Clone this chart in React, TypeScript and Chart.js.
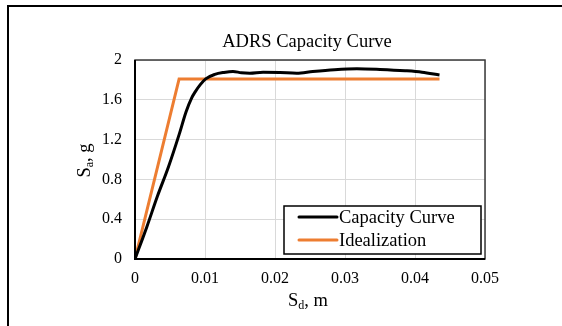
import React, { useEffect, useRef } from "react";
import { Chart, registerables } from "chart.js";

Chart.register(...registerables);

const chartTitle = "ADRS Capacity Curve";
const seriesNames = ["Capacity Curve", "Idealization"];

const capacitySd = [0, 0.0017, 0.0032, 0.0048, 0.0063, 0.0073, 0.0081, 0.0086, 0.0093, 0.0101, 0.0114, 0.0127, 0.014, 0.0152, 0.0164, 0.0183, 0.0207, 0.0231, 0.0254, 0.0285, 0.0317, 0.035, 0.0386, 0.041, 0.0435];
const capacitySa = [0, 0.325, 0.63, 0.93, 1.25, 1.48, 1.62, 1.68, 1.75, 1.81, 1.855, 1.875, 1.885, 1.872, 1.868, 1.878, 1.875, 1.868, 1.885, 1.903, 1.912, 1.905, 1.892, 1.878, 1.85];

const idealSd = [0, 0.0063, 0.0435];
const idealSa = [0, 1.81, 1.81];

const xTicks = [0, 0.01, 0.02, 0.03, 0.04, 0.05];
const xTickLabels = ["0", "0.01", "0.02", "0.03", "0.04", "0.05"];
const yTicks = [0, 0.4, 0.8, 1.2, 1.6, 2];
const yTickLabels = ["0", "0.4", "0.8", "1.2", "1.6", "2"];

const FONT = "'Liberation Serif', 'Times New Roman', serif";

function drawSubText(ctx: CanvasRenderingContext2D, main: string, sub: string, rest: string, cx: number, cy: number, size: number) {
  const subSize = size * 0.65;
  ctx.font = `${size}px ${FONT}`;
  const w1 = ctx.measureText(main).width;
  const w3 = ctx.measureText(rest).width;
  ctx.font = `${subSize}px ${FONT}`;
  const w2 = ctx.measureText(sub).width;
  const total = w1 + w2 + w3;
  let x = cx - total / 2;
  ctx.textBaseline = "middle";
  ctx.textAlign = "left";
  ctx.fillStyle = "#000";
  ctx.font = `${size}px ${FONT}`;
  ctx.fillText(main, x, cy);
  x += w1;
  ctx.font = `${subSize}px ${FONT}`;
  ctx.fillText(sub, x, cy + size * 0.28);
  x += w2;
  ctx.font = `${size}px ${FONT}`;
  ctx.fillText(rest, x, cy);
}

const decorPlugin = {
  id: "decor",
  beforeDraw(chart: any) {
    const ctx = chart.ctx as CanvasRenderingContext2D;
    ctx.save();
    ctx.fillStyle = "#fff";
    ctx.fillRect(0, 0, chart.width, chart.height);
    ctx.restore();
  },
  afterDraw(chart: any) {
    const ctx = chart.ctx as CanvasRenderingContext2D;
    const a = chart.chartArea;
    ctx.save();
    ctx.strokeStyle = "#3a3a3a";
    ctx.lineWidth = 1.5;
    ctx.strokeRect(a.left, a.top, a.right - a.left, a.bottom - a.top);
    ctx.strokeStyle = "#000";
    ctx.lineWidth = 2;
    ctx.beginPath();
    ctx.moveTo(a.left, a.top);
    ctx.lineTo(a.left, a.bottom);
    ctx.lineTo(a.right, a.bottom);
    ctx.stroke();
    ctx.lineWidth = 2;
    ctx.strokeStyle = "#000";
    ctx.strokeRect(8, 6, chart.width + 20, chart.height + 20);
    ctx.fillStyle = "#000";
    ctx.font = `18.5px ${FONT}`;
    ctx.textAlign = "center";
    ctx.textBaseline = "middle";
    ctx.fillText(chartTitle, 307, 42);
    drawSubText(ctx, "S", "d", ", m", (a.left + a.right) / 2 - 2, 301, 18.5);
    ctx.save();
    ctx.translate(85, (a.top + a.bottom) / 2 + 1);
    ctx.rotate(-Math.PI / 2);
    drawSubText(ctx, "S", "a", ", g", 0, 0, 18.5);
    ctx.restore();
    const lx = 284, ly = 206, lw = 197, lh = 48;
    ctx.fillStyle = "#fff";
    ctx.fillRect(lx, ly, lw, lh);
    ctx.strokeStyle = "#000";
    ctx.lineWidth = 1.5;
    ctx.strokeRect(lx, ly, lw, lh);
    const rows = [217, 240];
    chart.data.datasets.forEach((ds: any, i: number) => {
      const y = rows[i];
      ctx.strokeStyle = ds.borderColor;
      ctx.lineWidth = 3;
      ctx.lineCap = "round";
      ctx.beginPath();
      ctx.moveTo(299, y);
      ctx.lineTo(337, y);
      ctx.stroke();
      ctx.fillStyle = "#000";
      ctx.font = `18.5px ${FONT}`;
      ctx.textAlign = "left";
      ctx.textBaseline = "middle";
      ctx.fillText(ds.label, 339, y + 1);
    });
    ctx.restore();
  },
};

export default function App() {
  const ref = useRef<HTMLCanvasElement | null>(null);
  useEffect(() => {
    if (!ref.current) return;
    const chart = new Chart(ref.current, {
      type: "scatter",
      data: {
        datasets: [
          {
            label: seriesNames[0],
            data: capacitySd.map((x, i) => ({ x, y: capacitySa[i] })),
            borderColor: "#000000",
            backgroundColor: "#000000",
            borderWidth: 3,
            showLine: true,
            pointRadius: 0,
            cubicInterpolationMode: "monotone",
          },
          {
            label: seriesNames[1],
            data: idealSd.map((x, i) => ({ x, y: idealSa[i] })),
            borderColor: "#ED7D31",
            backgroundColor: "#ED7D31",
            borderWidth: 3,
            showLine: true,
            pointRadius: 0,
            tension: 0,
          },
        ],
      },
      options: {
        responsive: false,
        animation: false,
        layout: { padding: { left: 60, right: 77, top: 60, bottom: 20 } },
        plugins: {
          legend: { display: false },
          title: { display: false },
          tooltip: { enabled: false },
        },
        scales: {
          x: {
            type: "linear",
            min: 0,
            max: 0.05,
            afterBuildTicks: (s: any) => {
              s.ticks = xTicks.map((v) => ({ value: v }));
            },
            afterFit: (s: any) => {
              s.height = 47;
            },
            ticks: {
              callback: (v: any) => xTickLabels[xTicks.indexOf(Number(v))] ?? String(v),
              font: { family: FONT, size: 16 },
              color: "#000",
              padding: 10,
              maxRotation: 0,
            },
            grid: { color: "#d9d9d9", lineWidth: 1, drawTicks: false },
            border: { display: false },
          },
          y: {
            type: "linear",
            min: 0,
            max: 2,
            afterBuildTicks: (s: any) => {
              s.ticks = yTicks.map((v) => ({ value: v }));
            },
            afterFit: (s: any) => {
              s.width = 75;
            },
            ticks: {
              callback: (v: any) => {
                const idx = yTicks.findIndex((t) => Math.abs(t - Number(v)) < 1e-9);
                return idx >= 0 ? yTickLabels[idx] : String(v);
              },
              font: { family: FONT, size: 16 },
              color: "#000",
              padding: 13,
            },
            grid: { color: "#d9d9d9", lineWidth: 1, drawTicks: false },
            border: { display: false },
          },
        },
      },
      plugins: [decorPlugin],
    });
    return () => chart.destroy();
  }, []);
  return (
    <div style={{ position: "absolute", left: 0, top: 0, width: 562, height: 326 }}>
      <canvas ref={ref} width={562} height={326} style={{ display: "block" }} />
    </div>
  );
}
